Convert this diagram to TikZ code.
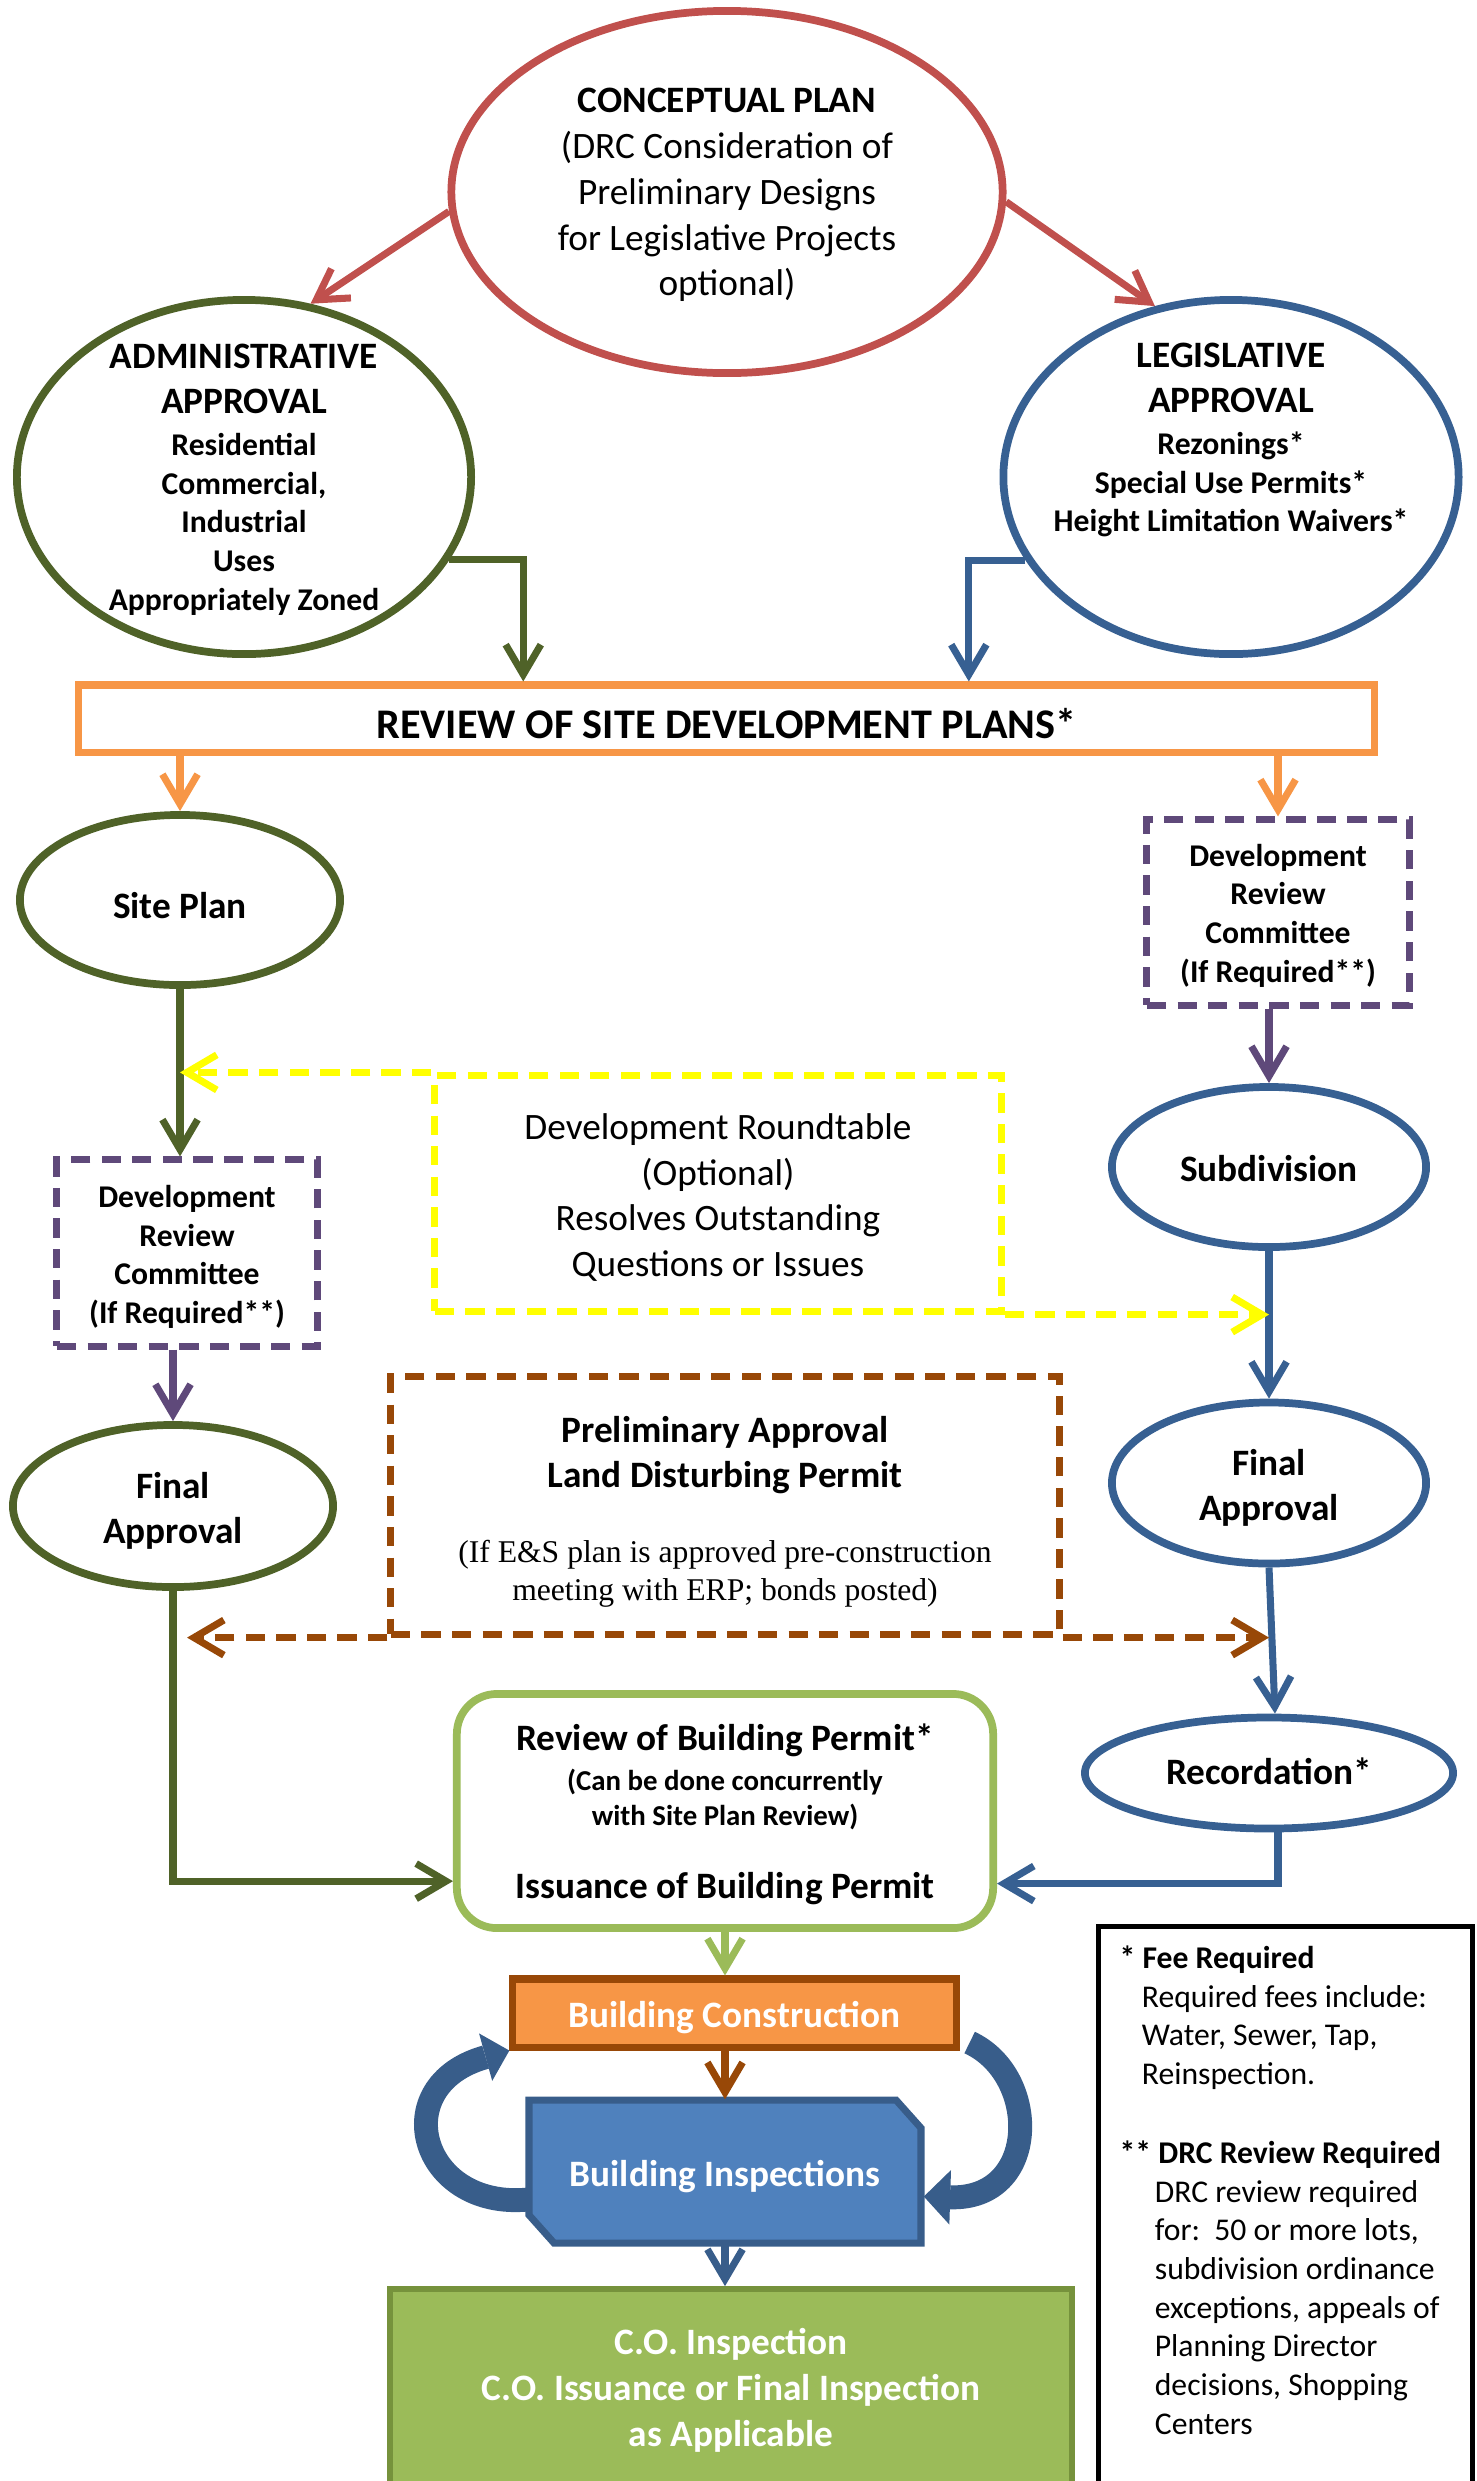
\documentclass[tikz,border=0pt]{standalone}
\usepackage{fontspec}
\setmainfont{Carlito}
\newfontfamily\timesfont{Liberation Serif}
\usetikzlibrary{arrows.meta,shapes.geometric,calc}
\definecolor{cred}{HTML}{C0504D}
\definecolor{colive}{HTML}{4F6228}
\definecolor{cblue}{HTML}{376092}
\definecolor{corange}{HTML}{F79646}
\definecolor{cpurple}{HTML}{5F497A}
\definecolor{cyellow}{HTML}{FFFF00}
\definecolor{cbrown}{HTML}{984807}
\definecolor{clgreen}{HTML}{9BBB59}
\definecolor{cfillblue}{HTML}{4F81BD}
\definecolor{cdarkblue}{HTML}{385D8A}
\definecolor{cgreenedge}{HTML}{76923C}
\newcommand{\bigtxt}[1]{{\fontsize{10.6}{13}\selectfont\bfseries #1}}
\newcommand{\smtxt}[1]{{\fontsize{8.2}{9.9}\selectfont\bfseries #1}}
\newcommand{\tmtxt}[1]{{\timesfont\fontsize{9}{10.8}\selectfont #1}}
\tikzset{
  base/.style={font=\fontsize{10.6}{13}\selectfont, align=center, inner sep=0pt, text=black},
  bbase/.style={base, font=\bfseries\fontsize{10.6}{13}\selectfont},
  sbase/.style={base, font=\bfseries\fontsize{9}{11}\selectfont},
  oval/.style={ellipse, draw, line width=2.2pt, inner sep=0pt},
  dbox/.style={rectangle, draw, line width=2pt, inner sep=0pt, dash pattern=on 5.5pt off 3.2pt},
  conn/.style={line width=2pt, -{Straight Barb[length=8.5pt,width=10pt]}},
  dconn/.style={conn, dash pattern=on 5.5pt off 3.2pt},
  bigarrow/.style={line width=6.8pt, cdarkblue},
}
\begin{document}
\begin{tikzpicture}[x=0.01cm,y=-0.01cm]
\useasboundingbox (0,0) rectangle (1477,2481);
\clip (0,0) rectangle (1477,2481);

% ---------- shapes ----------
\node[oval, draw=cred, minimum width=5.51cm, minimum height=3.62cm] (concept) at (727,192) {};
\node[oval, draw=colive, minimum width=4.54cm, minimum height=3.54cm] (admin) at (244,477) {};
\node[oval, draw=cblue, minimum width=4.55cm, minimum height=3.54cm] (leg) at (1231,477) {};
\node[rectangle, draw=corange, line width=2pt, inner sep=0pt, minimum width=12.95cm, minimum height=0.67cm] (review) at (726.5,718.5) {};

\node[oval, draw=colive, minimum width=3.2cm, minimum height=1.7cm] (siteplan) at (180,900) {};
\node[dbox, draw=cpurple, minimum width=2.6cm, minimum height=1.86cm] (drcL) at (187,1253) {};
\node[oval, draw=colive, minimum width=3.2cm, minimum height=1.62cm] (finalL) at (173,1506) {};

\node[dbox, draw=cpurple, minimum width=2.62cm, minimum height=1.85cm] (drcR) at (1278,912.5) {};
\node[oval, draw=cblue, minimum width=3.14cm, minimum height=1.6cm] (subdiv) at (1269,1167) {};
\node[oval, draw=cblue, minimum width=3.14cm, minimum height=1.61cm] (finalR) at (1269,1483) {};
\node[oval, draw=cblue, minimum width=3.68cm, minimum height=1.11cm] (record) at (1269,1773) {};

\node[dbox, draw=cyellow, minimum width=5.66cm, minimum height=2.35cm] (roundtable) at (718,1193.5) {};
\node[dbox, draw=cbrown, minimum width=6.68cm, minimum height=2.57cm] (prelim) at (725,1505.5) {};
\node[rectangle, draw=clgreen, line width=2.2pt, inner sep=0pt, rounded corners=0.4cm, minimum width=5.36cm, minimum height=2.34cm] (permit) at (725,1811) {};
\node[rectangle, fill=corange, draw=cbrown, line width=2pt, inner sep=0pt, minimum width=4.43cm, minimum height=0.68cm] (constr) at (734.5,2013) {};
\path[fill=cfillblue, draw=cdarkblue, line width=2pt] (529,2100) -- (896,2100) -- (921,2128) -- (921,2243) -- (554,2243) -- (529,2215) -- cycle;
\node[rectangle, inner sep=0pt, minimum width=3.92cm, minimum height=1.43cm] (inspect) at (725,2171.5) {};
\node[rectangle, fill=clgreen, draw=cgreenedge, line width=1.6pt, inner sep=0pt, minimum width=6.82cm, minimum height=2.01cm] (co) at (731,2389.5) {};
\node[draw=black, line width=1.4pt, inner sep=0pt, minimum width=3.74cm, minimum height=6cm, anchor=north west] (legend) at (1096,1924) {};

% ---------- texts ----------
\node[base, yshift=-0.9pt] (conceptT) at (concept)
 {\textbf{CONCEPTUAL PLAN}\\(DRC Consideration of\\Preliminary Designs\\for Legislative Projects\\optional)};
\node[sbase, yshift=-0.7pt] (adminT) at (admin)
 {\bigtxt{ADMINISTRATIVE}\\[1.8pt]\bigtxt{APPROVAL}\\[1pt]Residential\\Commercial,\\Industrial\\Uses\\Appropriately Zoned};
\node[sbase] (legT) at (1231,440)
 {\bigtxt{LEGISLATIVE}\\[1.8pt]\bigtxt{APPROVAL}\\[1pt]Rezonings*\\Special Use Permits*\\Height Limitation Waivers*};
\node[base, font=\bfseries\fontsize{12}{14}\selectfont, yshift=-1.3pt] (reviewT) at (review) {REVIEW OF SITE DEVELOPMENT PLANS*};
\node[bbase, yshift=-1.7pt] (siteplanT) at (siteplan) {Site Plan};
\node[sbase, yshift=-1.1pt] (drcLT) at (drcL) {Development\\Review\\Committee\\(If Required**)};
\node[bbase, yshift=-1.35pt] (finalLT) at (finalL) {Final\\Approval};
\node[sbase, yshift=-0.9pt] (drcRT) at (drcR) {Development\\Review\\Committee\\(If Required**)};
\node[bbase, yshift=-0.45pt] (subdivT) at (subdiv) {Subdivision};
\node[bbase, yshift=-1.35pt] (finalRT) at (finalR) {Final\\Approval};
\node[bbase, yshift=0.45pt] (recordT) at (record) {Recordation*};
\node[base, yshift=-1.1pt] (roundtableT) at (roundtable)
 {Development Roundtable\\(Optional)\\Resolves Outstanding\\Questions or Issues};
\node[base, yshift=-1.8pt] (prelimT) at (prelim)
 {\textbf{Preliminary Approval}\\\textbf{Land Disturbing Permit}\\[8.3pt]\tmtxt{(If E\&S plan is approved pre-construction}\\[-2.2pt]\tmtxt{meeting with ERP; bonds posted)}};
\node[base, yshift=-0.9pt] (permitT) at (permit)
 {\textbf{Review of Building Permit*}\\[-1.75pt]\smtxt{(Can be done concurrently}\\[-3pt]\smtxt{with Site Plan Review)}\\[7.65pt]\textbf{Issuance of Building Permit}};
\node[bbase, text=white, yshift=-1.35pt] (constrT) at (constr) {Building Construction};
\node[bbase, text=white, yshift=-1.35pt] (inspectT) at (inspect) {Building Inspections};
\node[bbase, text=white, yshift=-0.2pt] (coT) at (co) {C.O. Inspection\\C.O. Issuance or Final Inspection\\as Applicable};
\node[base, align=left, font=\fontsize{9}{11}\selectfont, anchor=north west] (legendT) at (1119,1945)
 {\textbf{* Fee Required}\\
  \hspace*{6.3pt}Required fees include:\\
  \hspace*{6.3pt}Water, Sewer, Tap,\\
  \hspace*{6.3pt}Reinspection.\\[11.5pt]
  \textbf{** DRC Review Required}\\
  \hspace*{10pt}DRC review required\\
  \hspace*{10pt}for:\ \ 50 or more lots,\\
  \hspace*{10pt}subdivision ordinance\\
  \hspace*{10pt}exceptions, appeals of\\
  \hspace*{10pt}Planning Director\\
  \hspace*{10pt}decisions, Shopping\\
  \hspace*{10pt}Centers};

% ---------- connectors ----------
\draw[conn, cred] (concept.184) -- (admin.69);
\draw[conn, cred] (concept.-2) -- (leg.114);
\draw[conn, colive] (admin.-22) -| ($(review.north west)!0.344!(review.north east)$);
\draw[conn, cblue] (leg.202) -| ($(review.north west)!0.686!(review.north east)$);
\draw[conn, corange] (review.south -| siteplan.north) -- (siteplan.north);
\draw[conn, corange] (review.south -| drcR.north) -- (drcR.north);
\draw[conn, cpurple] (drcR.south -| subdiv.north) -- (subdiv.north);
\draw[conn, colive] (siteplan.south) -- (siteplan.south |- drcL.north);
\draw[conn, cpurple] (drcL.south -| finalL.north) -- (finalL.north);
\draw[conn, cblue] (subdiv.south) -- (finalR.north);
\draw[conn, cblue] (finalR.south) -- ($(record.north)+(6,0)$);
\draw[conn, colive] (finalL.south) |- ($(permit.south west)!0.21!(permit.north west)$);
\draw[conn, cblue] ($(record.south)+(9,0)$) |- ($(permit.south east)!0.2!(permit.north east)$);
\draw[conn, clgreen] (permit.south) -- (permit.south |- constr.north);
\draw[conn, cbrown] (inspect.north |- constr.south) -- (inspect.north);
\draw[conn, cdarkblue] (inspect.south) -- (inspect.south |- co.north);

\draw[dconn, cyellow] (roundtable.north west) -- (roundtable.north west -| siteplan.south);
\draw[dconn, cyellow] (roundtable.south east) -- (roundtable.south east -| subdiv.south);
\draw[dconn, cbrown, shorten >=4pt] (prelim.south west) -- (prelim.south west -| finalL.south);
\draw[dconn, cbrown] (prelim.south east) -- (prelim.south east -| finalR.south);

\draw[bigarrow, -{Triangle[length=7pt,width=14pt,line width=0pt]}] ($(inspect.west)+(0,28)$) .. controls (420,2210) and (385,2085) .. (constr.south west);
\draw[bigarrow, -{Triangle[length=7.5pt,width=15.5pt,line width=0pt]}] ($(constr.south east)+(10,-8)$) .. controls (1040,2075) and (1040,2200) .. ($(inspect.east)+(2,25)$);
\end{tikzpicture}
\end{document}
